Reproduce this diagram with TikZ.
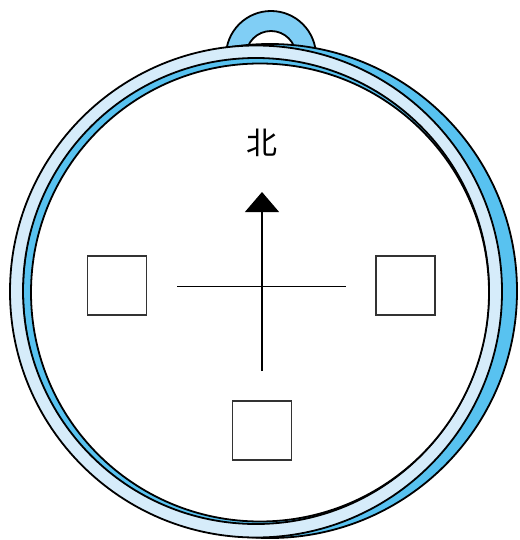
\documentclass[tikz,border=0pt]{standalone}
\usepackage{fontspec}
\newfontfamily\cjk{Noto Sans CJK SC}
\usetikzlibrary{arrows.meta}
\definecolor{loopblue}{RGB}{128,206,245}
\definecolor{ringblue}{RGB}{88,194,240}
\definecolor{ringlight}{RGB}{214,236,250}
\tikzset{
  ringline/.style={draw=black,line width=1.8pt},
  crossline/.style={draw=black,line width=1.3pt},
  boxsq/.style={draw=black!80,line width=1.1pt,minimum width=59pt,minimum height=59pt,inner sep=0pt,fill=white},
  northlabel/.style={font=\cjk\fontsize{31}{31}\selectfont,inner sep=0pt}
}
\begin{document}
\begin{tikzpicture}[x=1pt,y=-1pt]
\useasboundingbox (0,0) rectangle (519,540);
% hanging loop
\filldraw[ringline,fill=loopblue,even odd rule] (271,56) circle (45) (271,56) circle (25);
% back (dark blue) disc
\filldraw[ringline,fill=ringblue] (270,291) circle (247);
% light rim
\filldraw[ringline,fill=ringlight,even odd rule] (256,291.5) circle (246) (256,291) circle (233);
% face
\filldraw[ringline,fill=white] (260,292.5) circle (229);
% label
\node[northlabel] (north) at (262,143) {北};
% cross
\coordinate (hl) at (177,286.5);
\coordinate (hr) at (346,286.5);
\coordinate (vb) at (262,371);
\coordinate (vt) at (262,192);
\draw[crossline] (hl) -- (hr);
\draw[crossline,-{Triangle[width=34pt,length=20pt]}] (vb) -- (vt);
% boxes
\node[boxsq] (west) at (117.3,285.5) {};
\node[boxsq] (east) at (405.5,285.5) {};
\node[boxsq] (south) at (262,430.5) {};
\end{tikzpicture}
\end{document}
